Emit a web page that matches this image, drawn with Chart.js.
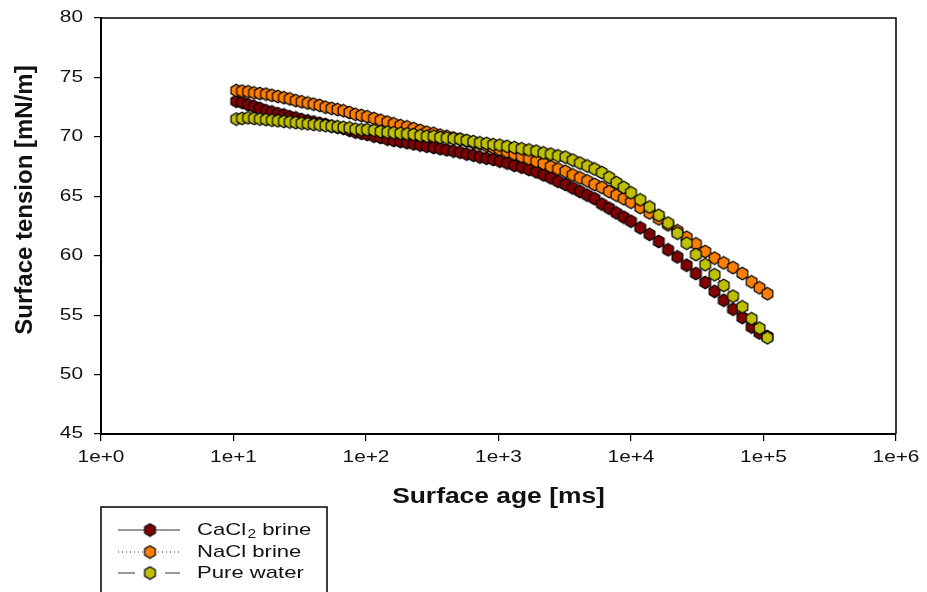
<!DOCTYPE html>
<html>
<head>
<meta charset="utf-8">
<script src="https://cdn.jsdelivr.net/npm/chart.js@4.4.0/dist/chart.umd.min.js"></script>
<style>
  html, body { margin: 0; padding: 0; background: #fff; }
</style>
</head>
<body>
<canvas id="surfaceChart" width="927" height="592"></canvas>
<script>
// surface age in ms (shared by the three series)
var ages = [
  10.5, 11.6, 12.9, 14.3, 15.8, 17.6, 19.5, 21.6, 24.0, 26.6, 29.5, 32.7, 36.3, 40.3, 44.7, 49.5,
  55.0, 61.0, 67.6, 75.0, 83.2, 92.3, 102, 115, 129, 145, 162, 182, 204, 229, 257, 288,
  324, 363, 407, 457, 513, 575, 646, 724, 813, 912, 1023, 1161, 1318, 1496, 1698, 1928,
  2188, 2483, 2818, 3199, 3631, 4121, 4677, 5309, 6026, 6839, 7762, 8810, 10000, 11750,
  13800, 16200, 19050, 22400, 26300, 30900, 36300, 42700, 50100, 58900, 69200, 81300, 93300, 107000
];

var cacl2Tension = [
  73.0, 72.9, 72.7, 72.55, 72.4, 72.2, 72.1, 71.95, 71.85, 71.7, 71.6, 71.45, 71.35, 71.25, 71.15, 71.05,
  70.9, 70.8, 70.7, 70.55, 70.4, 70.3, 70.2, 70.05, 69.95, 69.8, 69.7, 69.6, 69.5, 69.4, 69.3, 69.2,
  69.1, 69.0, 68.9, 68.8, 68.7, 68.55, 68.45, 68.3, 68.2, 68.1, 67.95, 67.8, 67.6, 67.45, 67.25, 67.05,
  66.8, 66.55, 66.25, 66.0, 65.7, 65.4, 65.1, 64.8, 64.35, 64.0, 63.6, 63.25, 62.9, 62.35,
  61.8, 61.2, 60.5, 59.9, 59.2, 58.5, 57.75, 57.0, 56.25, 55.5, 54.8, 54.0, 53.5, 53.2
];

var naclTension = [
  73.9, 73.85, 73.8, 73.7, 73.65, 73.6, 73.5, 73.4, 73.3, 73.2, 73.05, 72.95, 72.85, 72.75, 72.65, 72.5,
  72.4, 72.3, 72.2, 72.05, 71.9, 71.8, 71.7, 71.55, 71.4, 71.25, 71.1, 70.95, 70.85, 70.7, 70.55, 70.4,
  70.3, 70.15, 70.05, 69.9, 69.8, 69.65, 69.5, 69.4, 69.25, 69.1, 68.95, 68.75, 68.55, 68.35, 68.15, 67.95,
  67.75, 67.5, 67.3, 67.1, 66.8, 66.55, 66.3, 66.0, 65.75, 65.4, 65.1, 64.8, 64.5, 64.05,
  63.6, 63.1, 62.6, 62.1, 61.55, 61.0, 60.35, 59.8, 59.4, 59.0, 58.5, 57.8, 57.3, 56.8
];

var waterTension = [
  71.5, 71.55, 71.6, 71.55, 71.5, 71.45, 71.4, 71.35, 71.3, 71.25, 71.2, 71.15, 71.1, 71.05, 71.0, 70.95,
  70.9, 70.85, 70.8, 70.75, 70.65, 70.6, 70.6, 70.55, 70.45, 70.4, 70.35, 70.3, 70.25, 70.2, 70.1, 70.05,
  70.05, 69.95, 69.9, 69.85, 69.8, 69.7, 69.6, 69.5, 69.45, 69.35, 69.3, 69.2, 69.1, 69.0, 68.9, 68.8,
  68.65, 68.55, 68.4, 68.3, 68.05, 67.8, 67.55, 67.3, 67.0, 66.6, 66.15, 65.75, 65.3, 64.7,
  64.1, 63.4, 62.75, 61.9, 61.05, 60.1, 59.25, 58.4, 57.5, 56.6, 55.7, 54.7, 53.9, 53.1
];

var xTickValues = [1, 10, 100, 1000, 10000, 100000, 1000000];
var xTickLabels = ["1e+0", "1e+1", "1e+2", "1e+3", "1e+4", "1e+5", "1e+6"];
var yTickValues = [45, 50, 55, 60, 65, 70, 75, 80];

var seriesNames = ["CaCl", "NaCl brine", "Pure water"];
var seriesColors = ["#800000", "#ff8000", "#c0c000"];

function hexPath(g, cx, cy, r) {
  g.beginPath();
  for (var k = 0; k < 6; k++) {
    var a = Math.PI / 3 * k - Math.PI / 2;
    g.lineTo(cx + r * Math.cos(a), cy + r * Math.sin(a));
  }
  g.closePath();
}

function makeMarker(color) {
  var c = document.createElement("canvas");
  c.width = 15;
  c.height = 15;
  var g = c.getContext("2d");
  hexPath(g, 7.5, 7.5, 6.2);
  g.fillStyle = color;
  g.fill();
  g.lineWidth = 1.2;
  g.strokeStyle = "#000";
  g.stroke();
  return c;
}

var markers = seriesColors.map(makeMarker);

function toPoints(values) {
  return ages.map(function (t, i) {
    return { x: t, y: values[i] };
  });
}

function stretchText(ctx, text, x, y, sx, align) {
  ctx.save();
  ctx.translate(x, y);
  ctx.scale(sx, 1);
  ctx.textAlign = align;
  ctx.fillText(text, 0, 0);
  ctx.restore();
}

var textPlugin = {
  id: "textPlugin",
  afterDraw: function (chart) {
    var ctx = chart.ctx;
    var area = chart.chartArea;
    var xs = chart.scales.x;
    var ys = chart.scales.y;

    // top and right frame
    ctx.save();
    ctx.strokeStyle = "#000";
    ctx.lineWidth = 1.5;
    ctx.beginPath();
    ctx.moveTo(area.left, area.top);
    ctx.lineTo(area.right, area.top);
    ctx.lineTo(area.right, area.bottom);
    ctx.stroke();
    ctx.restore();

    ctx.save();
    ctx.fillStyle = "#111";
    ctx.textBaseline = "middle";
    ctx.font = "16px 'Liberation Sans', Arial, sans-serif";
    yTickValues.forEach(function (v) {
      stretchText(ctx, String(v), 83, ys.getPixelForValue(v), 1.3, "right");
    });
    xTickValues.forEach(function (v, i) {
      stretchText(ctx, xTickLabels[i], xs.getPixelForValue(v), 458, 1.3, "center");
    });

    ctx.textBaseline = "alphabetic";
    ctx.font = "bold 22px 'Liberation Sans', Arial, sans-serif";
    stretchText(ctx, "Surface age [ms]", (area.left + area.right) / 2, 503, 1.2, "center");

    ctx.save();
    ctx.translate(32, 200);
    ctx.rotate(-Math.PI / 2);
    ctx.font = "bold 24px 'Liberation Sans', Arial, sans-serif";
    ctx.textAlign = "center";
    ctx.fillText("Surface tension [mN/m]", 0, 0);
    ctx.restore();

    // legend
    ctx.strokeStyle = "#000";
    ctx.lineWidth = 1.5;
    ctx.strokeRect(101, 507, 226, 100);
    var rows = [530, 552, 573];
    ctx.strokeStyle = "#333";
    ctx.lineWidth = 1;
    rows.forEach(function (ry, i) {
      ctx.beginPath();
      if (i === 0) {
        ctx.setLineDash([]);
        ctx.moveTo(118, ry); ctx.lineTo(180, ry);
      } else if (i === 1) {
        ctx.setLineDash([1, 3]);
        ctx.moveTo(118, ry); ctx.lineTo(180, ry);
      } else {
        ctx.setLineDash([]);
        ctx.moveTo(118, ry); ctx.lineTo(135, ry);
        ctx.moveTo(165, ry); ctx.lineTo(180, ry);
      }
      ctx.stroke();
      ctx.setLineDash([]);
      ctx.drawImage(markers[i], 150 - 7.5, ry - 7.5);
    });
    ctx.fillStyle = "#111";
    ctx.textBaseline = "middle";
    ctx.font = "17px 'Liberation Sans', Arial, sans-serif";
    ctx.save();
    ctx.translate(197, rows[0]);
    ctx.scale(1.3, 1);
    ctx.textAlign = "left";
    ctx.fillText(seriesNames[0], 0, 0);
    var w = ctx.measureText(seriesNames[0]).width;
    ctx.font = "12px 'Liberation Sans', Arial, sans-serif";
    ctx.fillText("2", w + 1, 5);
    var w2 = ctx.measureText("2").width;
    ctx.font = "17px 'Liberation Sans', Arial, sans-serif";
    ctx.fillText(" brine", w + 1 + w2, 0);
    ctx.restore();
    stretchText(ctx, seriesNames[1], 197, rows[1], 1.3, "left");
    stretchText(ctx, seriesNames[2], 197, rows[2], 1.3, "left");
    ctx.restore();
  }
};

var ctx = document.getElementById("surfaceChart").getContext("2d");
var surfaceChart = new Chart(ctx, {
  type: "line",
  data: {
    datasets: [
      {
        label: "CaCl2 brine",
        data: toPoints(cacl2Tension),
        borderColor: "#222",
        borderWidth: 1,
        pointStyle: markers[0],
        pointRadius: 6,
        order: 2,
      },
      {
        label: "NaCl brine",
        data: toPoints(naclTension),
        borderColor: "#222",
        borderWidth: 1,
        borderDash: [1, 3],
        pointStyle: markers[1],
        pointRadius: 6,
        order: 1,
      },
      {
        label: "Pure water",
        data: toPoints(waterTension),
        borderColor: "#222",
        borderWidth: 1,
        borderDash: [8, 4],
        pointStyle: markers[2],
        pointRadius: 6,
        order: 0,
      },
    ],
  },
  options: {
    responsive: false,
    animation: false,
    layout: { padding: { top: 18, right: 31, left: 0, bottom: 0 } },
    plugins: {
      legend: { display: false },
      tooltip: { enabled: false },
    },
    scales: {
      x: {
        type: "logarithmic",
        min: 1,
        max: 1000000,
        afterBuildTicks: function (scale) {
          scale.ticks = xTickValues.map(function (v) { return { value: v }; });
        },
        afterFit: function (scale) { scale.height = 158; },
        ticks: { display: false },
        grid: { drawOnChartArea: false, color: "#000", tickLength: 7, lineWidth: 1.2 },
        border: { color: "#000", width: 2 },
      },
      y: {
        min: 45,
        max: 80,
        afterBuildTicks: function (scale) {
          scale.ticks = yTickValues.map(function (v) { return { value: v }; });
        },
        afterFit: function (scale) { scale.width = 101; },
        ticks: { display: false },
        grid: { drawOnChartArea: false, color: "#000", tickLength: 7, lineWidth: 1.2 },
        border: { color: "#000", width: 2 },
      },
    },
  },
  plugins: [textPlugin],
});
</script>
</body>
</html>
